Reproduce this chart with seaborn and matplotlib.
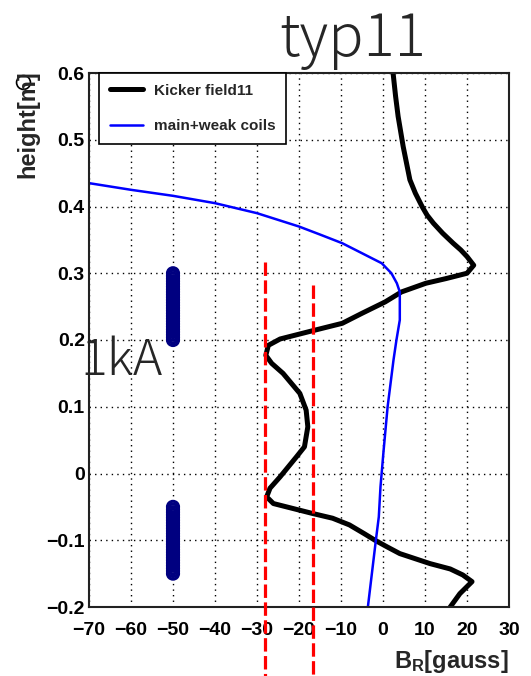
import seaborn as sns
import matplotlib
matplotlib.use("Agg")
import matplotlib.pyplot as plt
import pandas as pd

# Kicker field11 (B_R in gauss vs height in m), traced from top to bottom
kicker_br = [2.4, 3.0, 3.6, 4.8, 6.4, 7.7, 9.3, 10.5, 12, 14.2, 16.7, 18.5, 20, 21.6, 20,
             15, 10.2, 4.4, 0.5, -5, -9.7, -16.7, -24.5, -27.3, -27.9, -26.5, -23.8, -19.8,
             -18.3, -17.9, -18.7, -20.6, -24.5, -26.9, -27.7, -26.1, -16.7, -12, -8, -4.5,
             -1.9, 1, 4, 11.2, 16, 19, 21.2, 18.3, 16]
kicker_h = [0.6, 0.565, 0.535, 0.49, 0.44, 0.42, 0.40, 0.387, 0.375, 0.36, 0.345, 0.335,
            0.325, 0.312, 0.30, 0.292, 0.285, 0.272, 0.257, 0.24, 0.225, 0.214, 0.2015,
            0.192, 0.177, 0.165, 0.15, 0.12, 0.095, 0.07, 0.04, 0.025, -0.005, -0.022,
            -0.035, -0.045, -0.06, -0.067, -0.077, -0.09, -0.1, -0.11, -0.12, -0.135,
            -0.143, -0.152, -0.162, -0.18, -0.2]

# main+weak coils
coil_br = [-70, -60, -50, -40, -30, -20, -15, -9.7, -5, -2.5, -0.3, 2.0, 3.3, 4.0, 4.0,
           3.2, 2.5, 1.1, 0.15, -0.6, -1.0, -1.7, -3.6]
coil_h = [0.435, 0.425, 0.416, 0.405, 0.39, 0.37, 0.358, 0.345, 0.33, 0.322, 0.315, 0.30,
          0.285, 0.272, 0.23, 0.2, 0.17, 0.1, 0.035, -0.02, -0.065, -0.1, -0.2]

# coil positions (open circles at x=-50)
coil_pos_x = -50
upper_coil = [0.2 + 0.004 * i for i in range(26)]
lower_coil = [-0.15 + 0.004 * i for i in range(26)]

# red dashed markers
red_x = [-28.0, -16.6]
red_top = [0.317, 0.282]
red_bottom = -0.303

x_ticks = [-70, -60, -50, -40, -30, -20, -10, 0, 10, 20, 30]
y_ticks = [-0.2, -0.1, 0, 0.1, 0.2, 0.3, 0.4, 0.5, 0.6]
y_ticklabels = ["\u22120.2", "\u22120.1", "0", "0.1", "0.2", "0.3", "0.4", "0.5", "0.6"]

sns.set_style("white")
plt.rcParams["font.family"] = ["Liberation Sans", "DejaVu Sans"]
plt.rcParams["mathtext.fontset"] = "custom"
plt.rcParams["mathtext.bf"] = "Liberation Sans:bold"
plt.rcParams["mathtext.rm"] = "Liberation Sans"

fig = plt.figure(figsize=(5.31, 6.76), dpi=100)
ax = fig.add_axes([89 / 531, 69 / 676, 420 / 531, 534 / 676])

kicker = pd.DataFrame({"br": kicker_br, "h": kicker_h})
coils = pd.DataFrame({"br": coil_br, "h": coil_h})

sns.lineplot(data=kicker, x="br", y="h", sort=False, estimator=None, color="black",
             linewidth=3.6, ax=ax, label="Kicker field11")
sns.lineplot(data=coils, x="br", y="h", sort=False, estimator=None, color="#0000ff",
             linewidth=1.8, ax=ax, label="main+weak coils")

for ys in (upper_coil, lower_coil):
    sns.scatterplot(x=[coil_pos_x] * len(ys), y=ys, marker="o", s=64, color="#000080",
                    facecolor="none", edgecolor="#000080", linewidth=2.2, ax=ax,
                    zorder=3, legend=False)

for xr, yt in zip(red_x, red_top):
    ax.plot([xr, xr], [yt, red_bottom], color="#ff0000", linewidth=2.3,
            dashes=(4.2, 1.4), clip_on=False, zorder=4)

ax.set_xlim(-70, 30)
ax.set_ylim(-0.2, 0.6)
ax.set_xticks(x_ticks)
ax.set_xticklabels([str(t).replace("-", "\u2212") for t in x_ticks])
ax.set_yticks(y_ticks)
ax.set_yticklabels(y_ticklabels)
ax.set_xticks([-70 + 2 * i for i in range(51)], minor=True)
ax.set_yticks([-0.2 + 0.02 * i for i in range(41)], minor=True)
ax.set_xlabel("")
ax.set_ylabel("")

ax.grid(True, which="major", color="black", linestyle=(0, (1, 3)), linewidth=1.0)
ax.tick_params(which="both", direction="in", top=False, right=False, colors="black")
ax.tick_params(axis="x", which="major", length=16, width=1.3, pad=11, labelsize=14)
ax.tick_params(axis="x", which="minor", length=8, width=1.2)
ax.tick_params(axis="y", which="major", length=11, width=1.3, pad=3, labelsize=14)
ax.tick_params(axis="y", which="minor", length=5.5, width=1.2)
for lab in ax.get_xticklabels() + ax.get_yticklabels():
    lab.set_fontweight("bold")
for side in ax.spines.values():
    side.set_color("#222222")
    side.set_linewidth(1.5)

leg = ax.legend(loc="upper left", bbox_to_anchor=(0.024, 1.0), borderaxespad=0,
                frameon=True, fancybox=False, framealpha=1, edgecolor="black",
                prop={"weight": "bold", "size": 11}, handlelength=2.2,
                labelspacing=1.4, borderpad=0.7, handletextpad=0.7)
leg.get_frame().set_linewidth(1.2)

fig.text(28 / 531, 1 - 70 / 676, "height[m]", rotation=90, ha="center", va="top",
         fontsize=17, fontweight="bold")
fig.add_artist(plt.Line2D([23 / 531], [1 - 82 / 676], marker="o", markersize=10,
                          markerfacecolor="none", markeredgecolor="black",
                          markeredgewidth=1.2, transform=fig.transFigure))
fig.text(509 / 531, 1 - 668 / 676, r"$\mathbf{B_R[gauss]}$", ha="right", va="baseline",
         fontsize=17)

fig.text(353 / 531, 1 - 56 / 676, "typ11", ha="center", va="baseline", fontsize=42,
         family=["Noto Sans CJK JP", "DejaVu Sans"], fontweight="light")
fig.text(80 / 531, 1 - 375 / 676, "1kA", ha="left", va="baseline", fontsize=36,
         family=["Noto Sans CJK JP", "DejaVu Sans"], fontweight="light")

fig.savefig("out.png", dpi=100)
